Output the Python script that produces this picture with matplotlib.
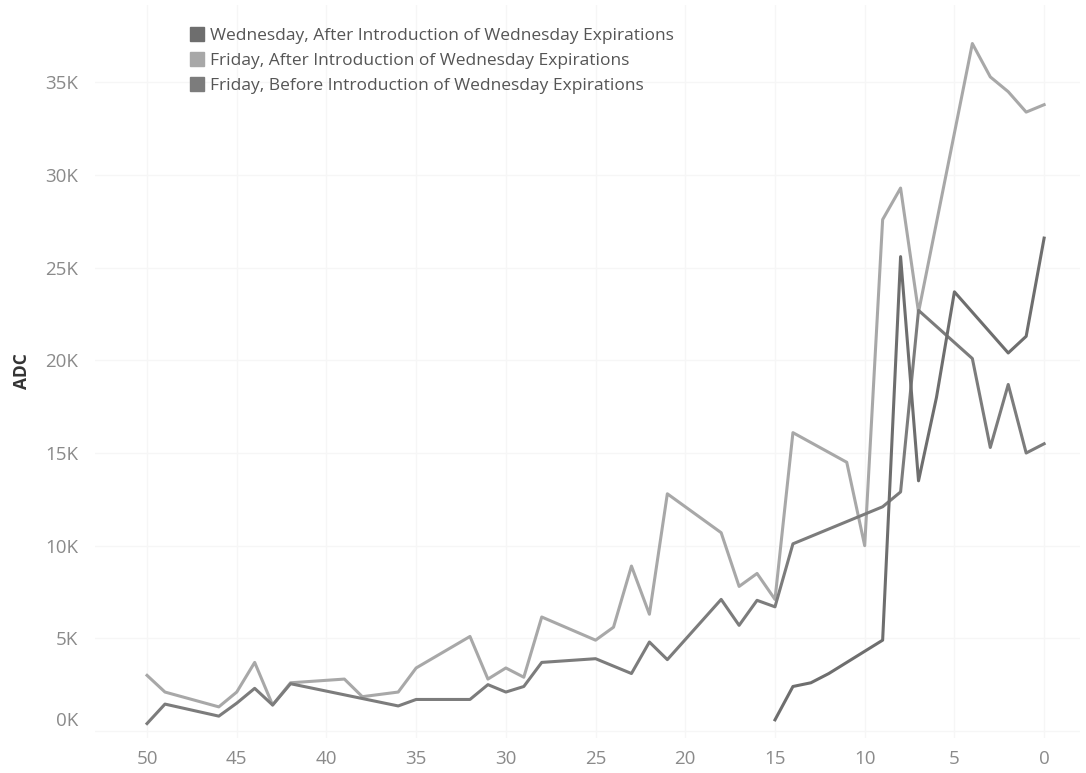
import matplotlib
matplotlib.use("Agg")
import matplotlib.pyplot as plt
from matplotlib.lines import Line2D
from matplotlib.transforms import ScaledTranslation
from matplotlib.ticker import FuncFormatter

# napok a lejáratig (x) és ADC értékek (y)
wed_after_x = [15, 14, 13, 12, 9, 8, 7, 6, 5, 2, 1, 0]
wed_after_y = [600, 2400, 2600, 3100, 4900, 25600, 13500, 18000, 23700, 20400, 21300, 26600]

fri_after_x = [50, 49, 46, 45, 44, 43, 42, 39, 38, 36, 35, 32, 31, 30, 29, 28, 25, 24, 23, 22,
               21, 18, 17, 16, 15, 14, 11, 10, 9, 8, 7, 4, 3, 2, 1, 0]
fri_after_y = [3000, 2100, 1300, 2100, 3700, 1400, 2600, 2800, 1850, 2100, 3400, 5100, 2800, 3400,
               2900, 6150, 4900, 5600, 8900, 6300, 12800, 10700, 7800, 8500, 7100, 16100, 14500,
               10000, 27600, 29300, 22600, 37100, 35300, 34500, 33400, 33800]

fri_before_x = [50, 49, 46, 45, 44, 43, 42, 38, 36, 35, 32, 31, 30, 29, 28, 25, 23, 22, 21, 18,
                17, 16, 15, 14, 9, 8, 7, 4, 3, 2, 1, 0]
fri_before_y = [400, 1450, 800, 1500, 2300, 1400, 2550, 1750, 1350, 1700, 1700, 2500, 2100, 2400,
                3700, 3900, 3100, 4800, 3850, 7100, 5700, 7050, 6700, 10100, 12100, 12900, 22700,
                20100, 15300, 18700, 15000, 15500]

labels = ['Wednesday, After Introduction of Wednesday Expirations',
          'Friday, After Introduction of Wednesday Expirations',
          'Friday, Before Introduction of Wednesday Expirations']
colors = ['#6e6e6e', '#a8a8a8', '#7c7c7c']
xticks = [50, 45, 40, 35, 30, 25, 20, 15, 10, 5, 0]
yticks = [0, 5000, 10000, 15000, 20000, 25000, 30000, 35000]

plt.rcParams['font.family'] = ['Open Sans', 'DejaVu Sans']
fig = plt.figure(figsize=(10.86, 7.73), dpi=100)
ax = fig.add_axes([95/1086, 1-738/773, (1080-95)/1086, (738-5)/773])

ax.plot(fri_before_x, fri_before_y, color=colors[2], linewidth=2.2, zorder=3)
ax.plot(fri_after_x, fri_after_y, color=colors[1], linewidth=2.2, zorder=2)
ax.plot(wed_after_x, wed_after_y, color=colors[0], linewidth=2.2, zorder=4)

ax.set_xlim(52.9, -2.0)
ax.set_ylim(-380, 39180)
ax.set_xticks(xticks)
ax.set_yticks(yticks)
ax.yaxis.set_major_formatter(FuncFormatter(lambda v, p: f'{int(v/1000)}K'))
ax.tick_params(length=0, labelsize=13.5, labelcolor='#8a8a8a')
ax.tick_params(axis='x', pad=9)
ax.tick_params(axis='y', pad=12)
for s in ax.spines.values():
    s.set_visible(False)
ax.grid(True, color='#f6f6f6', linewidth=1)
ax.set_axisbelow(True)
ax.set_ylabel('ADC', fontsize=12.5, fontweight='bold', color='#333333', labelpad=10)

# a 0K felirat kicsit feljebb
fig.canvas.draw()
lbl = ax.get_yticklabels()[0]
lbl.set_transform(lbl.get_transform() + ScaledTranslation(0, 12/100, fig.dpi_scale_trans))

handles = [Line2D([], [], marker='s', linestyle='None', markersize=10, color=c) for c in colors]
fig.legend(handles, labels, loc='upper left', bbox_to_anchor=(180/1086, 1-19/773),
           frameon=False, fontsize=12.5, labelcolor='#555555', handletextpad=0.25,
           labelspacing=0.52, borderpad=0, handlelength=1.0)

fig.savefig('out.png', dpi=100)
